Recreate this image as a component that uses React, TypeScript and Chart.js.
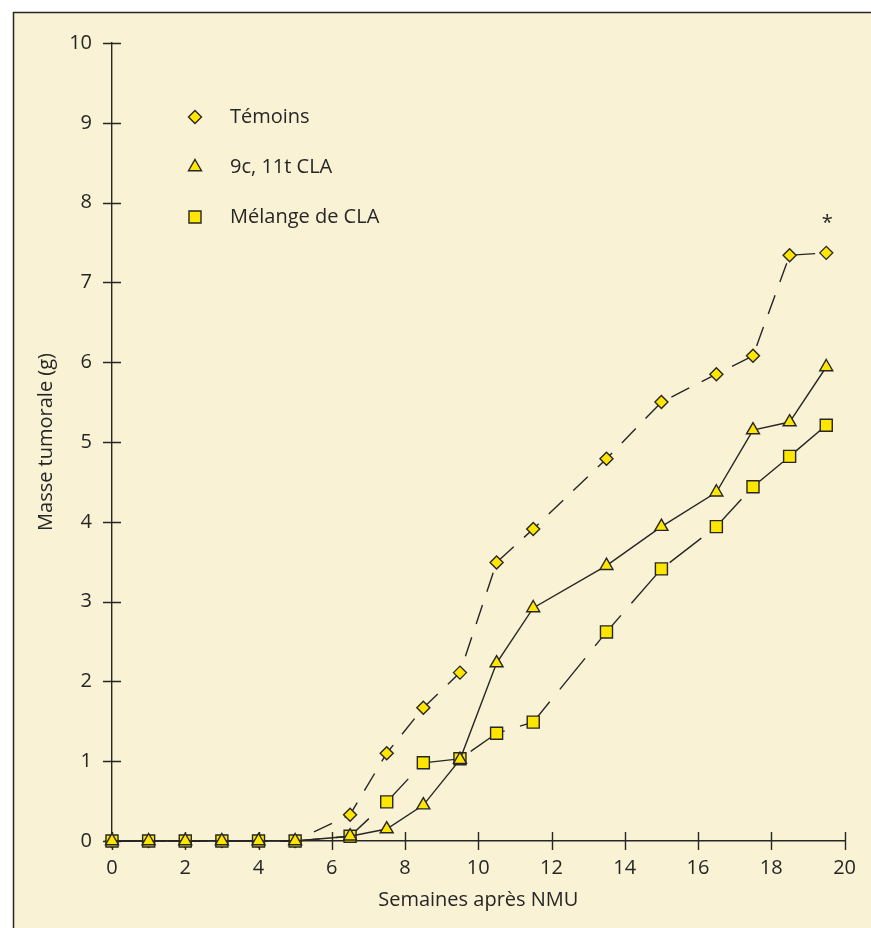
import React, { useEffect, useRef } from "react";
import { Chart, registerables } from "chart.js";

Chart.register(...registerables);

// ---- data ----
const weeks = [0, 1, 2, 3, 4, 5, 6.5, 7.5, 8.5, 9.5, 10.5, 11.5, 13.5, 15, 16.5, 17.5, 18.5, 19.5];
const temoins = [0, 0, 0, 0, 0, 0, 0.33, 1.1, 1.67, 2.11, 3.49, 3.91, 4.79, 5.5, 5.85, 6.08, 7.34, 7.37];
const cla9c11t = [0, 0, 0, 0, 0, 0, 0.06, 0.15, 0.45, 1.02, 2.23, 2.92, 3.45, 3.94, 4.37, 5.15, 5.25, 5.94];
const melange = [0, 0, 0, 0, 0, 0, 0.06, 0.49, 0.98, 1.03, 1.35, 1.49, 2.62, 3.41, 3.94, 4.44, 4.82, 5.21];
const seriesLabels = ["Témoins", "9c, 11t CLA", "Mélange de CLA"];
const xTitle = "Semaines après NMU";
const yTitle = "Masse tumorale (g)";
const significanceMark = "*";

const FONT = '"Open Sans", "Noto Sans", sans-serif';
const INK = "#262626";
const TEXT = "#262626";
const YELLOW = "#FFE600";
const CREAM = "#F9F2D4";

function drawMarker(ctx: CanvasRenderingContext2D, style: string, x: number, y: number, r: number) {
  ctx.beginPath();
  if (style === "rectRot") {
    ctx.moveTo(x, y - r);
    ctx.lineTo(x + r, y);
    ctx.lineTo(x, y + r);
    ctx.lineTo(x - r, y);
    ctx.closePath();
  } else if (style === "triangle") {
    const a = (2 * Math.PI) / 3;
    ctx.moveTo(x, y - r);
    ctx.lineTo(x + Math.sin(a) * r, y - Math.cos(a) * r);
    ctx.lineTo(x + Math.sin(2 * a) * r, y - Math.cos(2 * a) * r);
    ctx.closePath();
  } else {
    const s = r * Math.SQRT1_2;
    ctx.rect(x - s, y - s, 2 * s, 2 * s);
  }
  ctx.fill();
  ctx.stroke();
}

const framePlugin = {
  id: "frame",
  beforeDraw(chart: any) {
    const { ctx, width, height } = chart;
    ctx.save();
    ctx.fillStyle = "#ffffff";
    ctx.fillRect(0, 0, width, height);
    ctx.fillStyle = CREAM;
    ctx.fillRect(13, 12, width, height);
    ctx.strokeStyle = INK;
    ctx.lineWidth = 1.5;
    ctx.strokeRect(13.5, 12.5, width + 20, height + 20);
    ctx.restore();
  },
};

const crossTicksPlugin = {
  id: "crossTicks",
  beforeDatasetsDraw(chart: any) {
    const { ctx, chartArea } = chart;
    const xs = chart.scales.x;
    const ys = chart.scales.y;
    ctx.save();
    ctx.strokeStyle = INK;
    ctx.lineWidth = 1.4;
    ctx.beginPath();
    ys.ticks.forEach((t: any) => {
      const py = Math.round(ys.getPixelForValue(t.value)) + 0.5;
      ctx.moveTo(chartArea.left - 9, py);
      ctx.lineTo(chartArea.left + 9, py);
    });
    xs.ticks.forEach((t: any) => {
      const px = Math.round(xs.getPixelForValue(t.value)) + 0.5;
      ctx.moveTo(px, chartArea.bottom - 9);
      ctx.lineTo(px, chartArea.bottom + 9);
    });
    ctx.stroke();
    ctx.restore();
  },
};

const legendPlugin = {
  id: "innerLegend",
  afterDraw(chart: any) {
    const { ctx } = chart;
    const xs = chart.scales.x;
    const ys = chart.scales.y;
    ctx.save();
    chart.data.datasets.forEach((ds: any, i: number) => {
      const my = 117 + i * 50;
      ctx.fillStyle = ds.pointBackgroundColor;
      ctx.strokeStyle = ds.pointBorderColor;
      ctx.lineWidth = ds.pointBorderWidth;
      drawMarker(ctx, ds.pointStyle, 195, my, ds.pointRadius);
      ctx.fillStyle = TEXT;
      ctx.font = `20px ${FONT}`;
      ctx.textAlign = "left";
      ctx.textBaseline = "middle";
      ctx.fillText(ds.label, 230, my);
    });
    // significance mark above the last control point
    const last = weeks.length - 1;
    const ax = xs.getPixelForValue(weeks[last]);
    const ay = ys.getPixelForValue(temoins[last]);
    ctx.fillStyle = TEXT;
    ctx.font = `20px ${FONT}`;
    ctx.textAlign = "center";
    ctx.textBaseline = "middle";
    ctx.fillText(significanceMark, ax + 1, ay - 30);
    ctx.restore();
  },
};

export default function App() {
  const ref = useRef<HTMLCanvasElement | null>(null);

  useEffect(() => {
    if (!ref.current) return;
    const mk = (vals: number[]) => weeks.map((w, i) => ({ x: w, y: vals[i] }));
    const common = {
      borderColor: INK,
      borderWidth: 1.4,
      pointBackgroundColor: YELLOW,
      pointBorderColor: INK,
      pointBorderWidth: 1.4,
      tension: 0,
      fill: false,
      clip: false,
    };
    const chart = new Chart(ref.current, {
      type: "line",
      data: {
        datasets: [
          {
            ...common,
            label: seriesLabels[0],
            data: mk(temoins),
            borderDash: [20, 14],
            pointStyle: "rectRot",
            pointRadius: 6.5,
            order: 2,
          },
          {
            ...common,
            label: seriesLabels[1],
            data: mk(cla9c11t),
            pointStyle: "triangle",
            pointRadius: 7.5,
            order: 0,
          },
          {
            ...common,
            label: seriesLabels[2],
            data: mk(melange),
            borderDash: [40, 16],
            pointStyle: "rect",
            pointRadius: 8.5,
            order: 1,
          },
        ],
      } as any,
      options: {
        responsive: false,
        animation: false,
        events: [],
        layout: { padding: { top: 43, right: 22, left: 0, bottom: 0 } },
        plugins: {
          legend: { display: false },
          tooltip: { enabled: false },
        },
        scales: {
          x: {
            type: "linear",
            min: 0,
            max: 20,
            afterFit: (s: any) => {
              s.height = 87;
            },
            grid: { display: false, drawTicks: false },
            border: { display: true, color: INK, width: 1.4 },
            ticks: { stepSize: 2, padding: 15, color: TEXT, font: { family: FONT, size: 20 } },
            title: {
              display: true,
              text: xTitle,
              color: TEXT,
              font: { family: FONT, size: 20 },
              padding: { top: 0, bottom: 16 },
            },
          },
          y: {
            type: "linear",
            min: 0,
            max: 10,
            afterFit: (s: any) => {
              s.width = 112;
            },
            grid: { display: false, drawTicks: false },
            border: { display: true, color: INK, width: 1.4 },
            ticks: { stepSize: 1, padding: 20, color: TEXT, font: { family: FONT, size: 20 } },
            title: {
              display: true,
              text: yTitle,
              color: TEXT,
              font: { family: FONT, size: 20 },
              padding: { top: 34, bottom: 0 },
            },
          },
        },
      } as any,
      plugins: [framePlugin, crossTicksPlugin, legendPlugin],
    });
    return () => chart.destroy();
  }, []);

  return (
    <div style={{ position: "fixed", left: 0, top: 0, width: 871, height: 928 }}>
      <canvas ref={ref} width={871} height={928} style={{ display: "block" }} />
    </div>
  );
}
